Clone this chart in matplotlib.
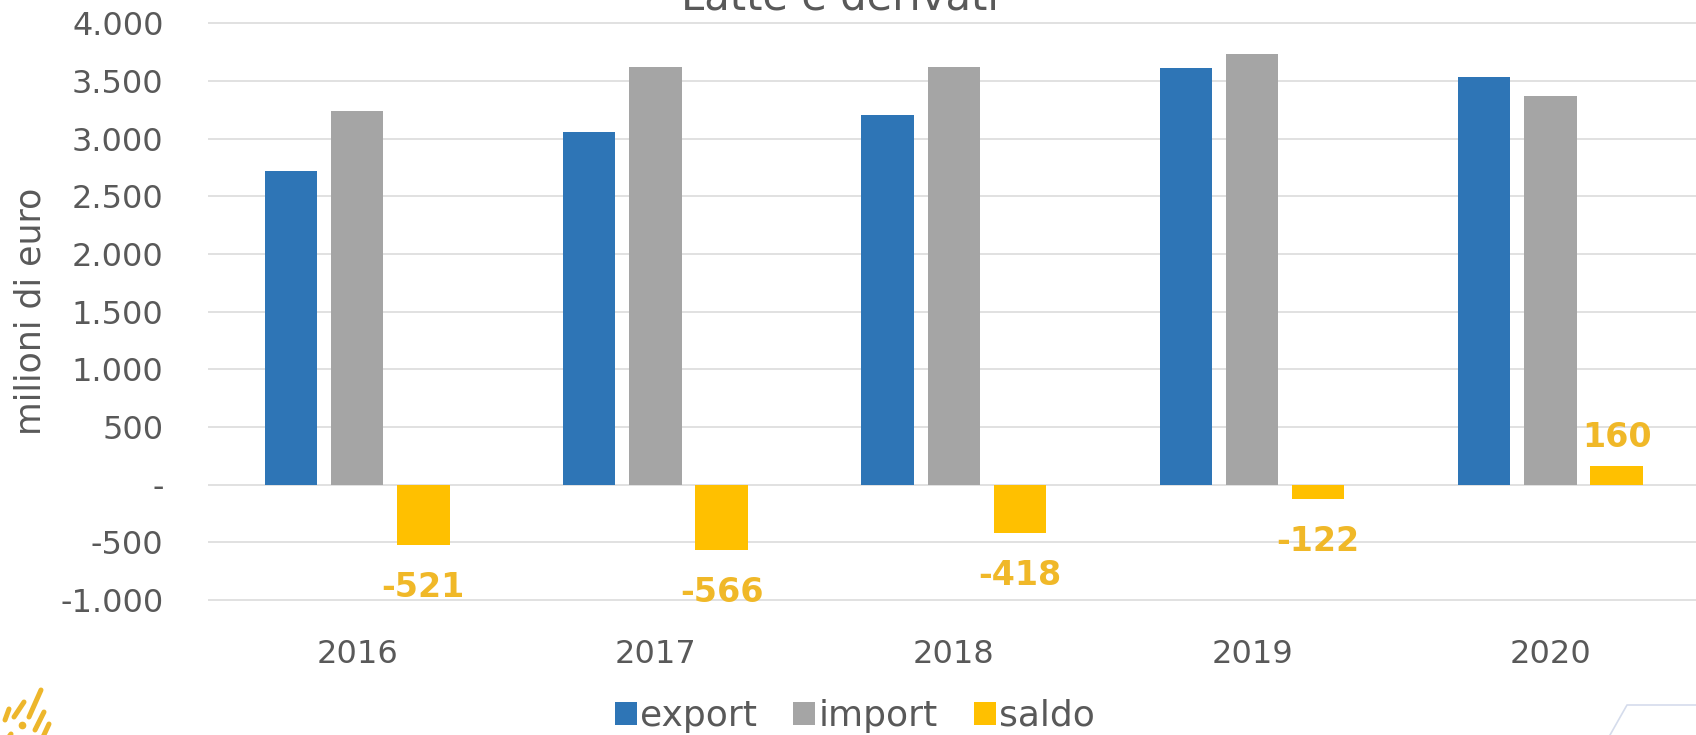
import matplotlib
matplotlib.use("Agg")
import matplotlib.pyplot as plt
from matplotlib.lines import Line2D
import numpy as np

# Trade in milk and dairy products (million euro)
years = ["2016", "2017", "2018", "2019", "2020"]
export_vals = [2720, 3056, 3206, 3610, 3533]
import_vals = [3241, 3622, 3624, 3732, 3373]
saldo_vals = [-521, -566, -418, -122, 160]

y_ticks = [-1000, -500, 0, 500, 1000, 1500, 2000, 2500, 3000, 3500, 4000]
y_tick_labels = ["-1.000", "-500", "-", "500", "1.000", "1.500", "2.000",
                 "2.500", "3.000", "3.500", "4.000"]

series_names = ["export", "import", "saldo"]
series_colors = ["#2E75B6", "#A5A5A5", "#FFC000"]
label_color = "#F0B828"
text_color = "#595959"
grid_color = "#D9D9D9"

W, H = 1696, 735
fig = plt.figure(figsize=(W / 100, H / 100), dpi=100)
plt.rcParams["font.family"] = ["DejaVu Sans"]

# axes placement (pixel based)
ax_left, ax_right = 208, 1696
ax_top, ax_bottom = 20.3, 603.0
ax = fig.add_axes([ax_left / W, 1 - ax_bottom / H,
                   (ax_right - ax_left) / W, (ax_bottom - ax_top) / H])

x = np.arange(len(years))
bw = 0.1757
off = 0.222
series = [export_vals, import_vals, saldo_vals]
bars = []
for i, (vals, col, name) in enumerate(zip(series, series_colors, series_names)):
    b = ax.bar(x + (i - 1) * off, vals, width=bw, color=col, label=name, zorder=3)
    bars.append(b)

# value labels on the balance bars
for xi, v in zip(x, saldo_vals):
    ax.annotate(f"{v}", xy=(xi + off, v), xytext=(0, 21 if v >= 0 else -31),
                textcoords="offset points", ha="center", va="center",
                fontsize=24, fontweight="bold", color=label_color, zorder=4)

ax.set_ylim(-1026, 4026)
ax.set_xlim(-0.5, (ax_right - ax_left) / 298.3 - 0.5)
ax.set_yticks(y_ticks)
ax.set_yticklabels(y_tick_labels)
ax.set_xticks(x)
ax.set_xticklabels(years)
ax.tick_params(axis="y", length=0, pad=32, labelsize=23, labelcolor=text_color)
ax.tick_params(axis="x", length=0, pad=26, labelsize=23, labelcolor=text_color)
ax.grid(axis="y", color=grid_color, linewidth=1.1, zorder=0)
ax.set_axisbelow(True)
for s in ax.spines.values():
    s.set_visible(False)

ax.set_ylabel("milioni di euro", fontsize=25, color=text_color)
ax.yaxis.set_label_coords((48 - ax_left) / (ax_right - ax_left), 0.5)

fig.text(840 / W, 1 - 10 / H, "Latte e derivati", ha="center", va="baseline",
         fontsize=30, color=text_color)

leg = fig.legend(handles=bars, labels=series_names, loc="center",
                 bbox_to_anchor=(855 / W, 1 - 716 / H), ncol=3, frameon=False,
                 fontsize=26, handlelength=0.6, handleheight=0.6,
                 handletextpad=0.1, columnspacing=1.0, labelcolor=text_color)

# small logo marks, bottom left (pixel coordinates from the top-left)
logo = [((5, 720), (9, 709)), ((14, 717), (24, 702)), ((29, 717), (41, 690)),
        ((35, 730), (44, 712)), ((43, 737), (49, 724)), ((8, 738), (11, 734))]
for (x0, y0), (x1, y1) in logo:
    fig.add_artist(Line2D([x0, x1], [H - y0, H - y1], transform=None,
                          color="#EDB62B", linewidth=3.6, solid_capstyle="round"))
fig.add_artist(Line2D([22], [H - 725], transform=None, marker="o",
                      markersize=4.5, color="#EDB62B", linestyle="none"))

# decorative outline, bottom right
fig.add_artist(Line2D([1610, 1627, 1696], [H - 735, H - 705, H - 705],
                      transform=None, color="#D5DCEC", linewidth=1.2))

fig.savefig("out.png", dpi=100)
